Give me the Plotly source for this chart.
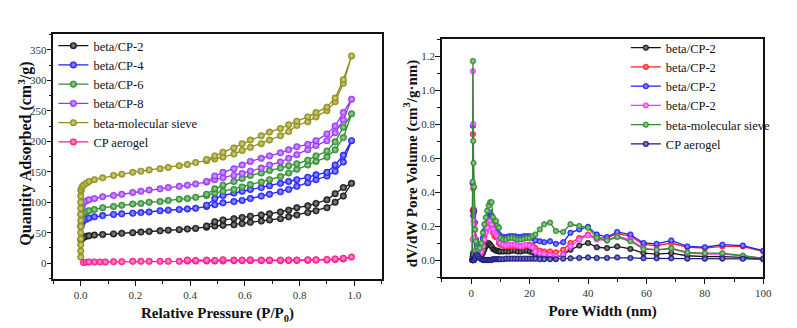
import plotly.graph_objects as go

# ---------------- Left panel: N2 isotherms ----------------
p_ads = [0.001, 0.005, 0.01, 0.02, 0.03, 0.05, 0.08, 0.12, 0.15, 0.19, 0.22, 0.25, 0.29, 0.32,
         0.36, 0.39, 0.42, 0.46, 0.49, 0.52, 0.56, 0.59, 0.62, 0.66, 0.69, 0.73, 0.76, 0.79,
         0.83, 0.86, 0.90, 0.93, 0.96, 0.99]
p_des = [0.96, 0.93, 0.90, 0.86, 0.83, 0.79, 0.76, 0.73, 0.69, 0.66, 0.62, 0.59, 0.56, 0.52, 0.49, 0.46]

cp2_ads = [38, 41, 42, 44, 45, 46, 47, 48, 49, 50, 51, 52, 53, 54, 55, 56, 57, 59, 61, 62, 63, 65,
           67, 69, 71, 73, 76, 79, 83, 86, 91, 100, 110, 131]
cp2_des = [124, 114, 104, 98, 94, 91, 87, 84, 81, 79, 77, 75, 73, 71, 68, 61]

cp4_ads = [60, 66, 70, 72, 74, 76, 78, 80, 81, 82, 83, 84, 86, 87, 88, 89, 90, 93, 96, 99, 101, 103,
           106, 110, 113, 117, 121, 126, 132, 137, 143, 151, 166, 201]
cp4_des = [177, 161, 149, 145, 141, 137, 134, 131, 127, 124, 121, 118, 115, 111, 106, 95]

cp6_ads = [62, 76, 82, 84, 86, 88, 91, 93, 95, 97, 98, 100, 101, 103, 105, 106, 108, 111, 115, 118,
           121, 125, 129, 133, 137, 142, 148, 154, 161, 167, 174, 186, 206, 245]
cp6_des = [223, 199, 184, 176, 169, 163, 160, 156, 152, 148, 144, 139, 134, 128, 122, 113]

cp8_ads = [80, 92, 99, 102, 104, 106, 109, 111, 113, 116, 118, 120, 122, 124, 126, 128, 130, 133,
           137, 140, 144, 147, 151, 156, 161, 166, 172, 178, 186, 193, 201, 214, 235, 269]
cp8_des = [247, 225, 212, 201, 195, 191, 186, 181, 176, 172, 167, 161, 155, 149, 143, 134]

sieve_p_low = [0.0, 0.0, 0.0, 0.0, 0.0, 0.0, 0.0, 0.0, 0.0, 0.0, 0.0, 0.001]
sieve_low = [10, 20, 30, 40, 50, 60, 70, 80, 90, 100, 110, 118]
sieve_ads = [121, 125, 128, 131, 134, 137, 140, 144, 146, 149, 151, 153, 155, 157, 160, 162, 165,
             168, 171, 174, 179, 185, 190, 196, 202, 209, 216, 226, 232, 240, 250, 265, 295, 340]
sieve_des = [301, 271, 256, 247, 240, 233, 227, 221, 215, 209, 202, 196, 189, 182, 176, 170]

aero_p_ads = [0.01, 0.02, 0.03, 0.05, 0.07, 0.09, 0.12, 0.15, 0.19, 0.22, 0.25, 0.29, 0.32, 0.36,
              0.39, 0.42, 0.46, 0.49, 0.52, 0.56, 0.59, 0.62, 0.66, 0.69, 0.73, 0.76, 0.79, 0.83,
              0.86, 0.90, 0.93, 0.96, 0.99]
aero_ads = [1, 1.5, 2, 2, 2, 2, 2.5, 2.5, 3, 3, 3, 3, 3, 3, 3.5, 3.5, 3.5, 3.5, 3.5, 4, 4, 4, 4, 4,
            4, 4.5, 4.5, 4.5, 5, 5, 6, 7, 10]
aero_p_des = [0.96, 0.93, 0.90, 0.86, 0.83, 0.79, 0.76, 0.73, 0.69, 0.66, 0.62, 0.59, 0.56, 0.52,
              0.49, 0.46, 0.42, 0.39]
aero_des = [8, 7, 6, 5.5, 5.5, 5, 5, 5, 5, 5, 5.5, 5, 5, 5.5, 4.5, 5, 4.5, 5]

left_names = ["beta/CP-2", "beta/CP-4", "beta/CP-6", "beta/CP-8", "beta-molecular sieve", "CP aerogel"]
left_colors = ["#151515", "#1f1fff", "#2e8b2e", "#9a35ff", "#8e8e18", "#ff1a8c"]
left_light = ["#9a9a9a", "#a8a8ff", "#a6d8a6", "#d6b0ff", "#d8d890", "#ffa8d2"]

left_x = [p_ads + p_des, p_ads + p_des, p_ads + p_des, p_ads + p_des,
          sieve_p_low + p_ads + p_des, aero_p_ads + aero_p_des]
left_y = [cp2_ads + cp2_des, cp4_ads + cp4_des, cp6_ads + cp6_des, cp8_ads + cp8_des,
          sieve_low + sieve_ads + sieve_des, aero_ads + aero_des]

# ---------------- Right panel: pore size distribution ----------------
pore_width = [0.4, 0.5, 0.6, 0.7, 0.8, 1.0, 1.3, 1.6, 2.0, 2.5, 3.0, 3.5, 4.0, 4.5, 5.0, 5.5, 6.0,
              6.5, 7.0, 7.5, 8.0, 8.5, 9.0, 9.5, 10, 11, 12, 13, 14, 15, 16, 17, 18, 19, 20, 21,
              22, 23.5, 25, 27, 29, 31.5, 34, 37, 40, 43, 46.5, 50, 54.5, 59, 63.5, 68.5, 74, 80,
              86, 93, 100]

psd_black = [0.00, 0.02, 0.04, 0.02, 0.01, 0.00, 0.01, 0.02, 0.03, 0.03, 0.02, 0.02, 0.04, 0.06,
             0.08, 0.09, 0.10, 0.09, 0.08, 0.065, 0.06, 0.055, 0.055, 0.05, 0.05, 0.05, 0.05, 0.05,
             0.055, 0.055, 0.05, 0.05, 0.055, 0.055, 0.05, 0.045, 0.03, 0.02, 0.02, 0.015, 0.015,
             0.03, 0.06, 0.085, 0.10, 0.075, 0.07, 0.08, 0.065, 0.04, 0.035, 0.04, 0.025, 0.02,
             0.02, 0.015, 0.005]
psd_red = [0.00, 0.29, 0.74, 0.42, 0.30, 0.28, 0.18, 0.12, 0.08, 0.05, 0.05, 0.07, 0.10, 0.14, 0.17,
           0.20, 0.22, 0.21, 0.20, 0.16, 0.14, 0.135, 0.13, 0.10, 0.09, 0.085, 0.08, 0.08, 0.08,
           0.08, 0.08, 0.08, 0.08, 0.085, 0.09, 0.085, 0.07, 0.055, 0.05, 0.05, 0.045, 0.06, 0.10,
           0.13, 0.15, 0.13, 0.13, 0.155, 0.14, 0.09, 0.085, 0.10, 0.075, 0.07, 0.08, 0.08, 0.05]
psd_blue = [0.00, 0.45, 0.79, 0.26, 0.29, 0.29, 0.22, 0.12, 0.09, 0.06, 0.06, 0.09, 0.13, 0.17, 0.21,
            0.25, 0.27, 0.28, 0.26, 0.21, 0.19, 0.17, 0.16, 0.15, 0.14, 0.135, 0.135, 0.14, 0.14,
            0.14, 0.135, 0.135, 0.14, 0.14, 0.14, 0.13, 0.115, 0.11, 0.105, 0.11, 0.095, 0.105,
            0.16, 0.18, 0.195, 0.15, 0.135, 0.165, 0.15, 0.10, 0.095, 0.115, 0.08, 0.075, 0.09,
            0.085, 0.055]
psd_magenta = [0.00, 0.12, 1.11, 0.80, 0.23, 0.21, 0.13, 0.06, 0.03, 0.02, 0.03, 0.05, 0.08, 0.12,
               0.16, 0.19, 0.22, 0.23, 0.21, 0.18, 0.16, 0.15, 0.14, 0.12, 0.10, 0.09, 0.085, 0.09,
               0.09, 0.09, 0.085, 0.08, 0.085, 0.09, 0.085, 0.075, 0.05, 0.04, 0.035, 0.03, 0.02,
               0.03, 0.08, 0.12, 0.145, 0.12, 0.115, 0.14, 0.12, 0.07, 0.06, 0.065, 0.04, 0.035,
               0.035, 0.025, 0.01]
psd_green = [0.00, 0.46, 1.17, 0.70, 0.57, 0.43, 0.18, 0.11, 0.07, 0.06, 0.07, 0.10, 0.16, 0.21,
             0.25, 0.29, 0.32, 0.34, 0.34, 0.25, 0.23, 0.23, 0.20, 0.19, 0.13, 0.12, 0.12, 0.13,
             0.13, 0.125, 0.12, 0.12, 0.125, 0.13, 0.13, 0.14, 0.15, 0.18, 0.21, 0.22, 0.17, 0.165,
             0.21, 0.20, 0.19, 0.13, 0.115, 0.135, 0.11, 0.065, 0.06, 0.07, 0.045, 0.04, 0.04,
             0.025, 0.01]
psd_navy = [0.00, 0.00, 0.00, 0.00, 0.00, 0.00, 0.01, 0.02, 0.03, 0.02, 0.01, 0.005, 0.0, 0.0, 0.0,
            0.0, 0.0, 0.0, 0.0, 0.005, 0.005, 0.005, 0.005, 0.005, 0.005, 0.005, 0.008, 0.008,
            0.008, 0.008, 0.008, 0.008, 0.008, 0.008, 0.008, 0.008, 0.008, 0.005, 0.005, 0.005,
            0.005, 0.008, 0.01, 0.012, 0.015, 0.012, 0.012, 0.015, 0.012, 0.01, 0.01, 0.01, 0.008,
            0.008, 0.008, 0.007, 0.005]

right_names = ["beta/CP-2", "beta/CP-2", "beta/CP-2", "beta/CP-2", "beta-molecular sieve", "CP aerogel"]
right_colors = ["#151515", "#ff1f1f", "#1f1fff", "#ff33ff", "#2e8b2e", "#1a1a85"]
right_light = ["#9a9a9a", "#ffaaaa", "#a8a8ff", "#ffb0ff", "#a6d8a6", "#9a9ad8"]
right_y = [psd_black, psd_red, psd_blue, psd_magenta, psd_green, psd_navy]

FONT = "Liberation Serif"
W, H = 797, 328

fig = go.Figure()

for name, c, lc, xs, ys in zip(left_names, left_colors, left_light, left_x, left_y):
    fig.add_trace(go.Scatter(
        x=xs, y=ys, name=name, mode="lines+markers", xaxis="x", yaxis="y", legend="legend",
        line=dict(color=c, width=1.3),
        marker=dict(symbol="circle", size=6.5, color=c,
                    gradient=dict(type="radial", color=lc),
                    line=dict(color=c, width=0.6)),
    ))

for name, c, lc, ys in zip(right_names, right_colors, right_light, right_y):
    fig.add_trace(go.Scatter(
        x=pore_width, y=ys, name=name, mode="lines+markers", xaxis="x2", yaxis="y2",
        legend="legend2",
        line=dict(color=c, width=1.3),
        marker=dict(symbol="circle", size=5.5, color=c,
                    gradient=dict(type="radial", color=lc),
                    line=dict(color=c, width=0.6)),
    ))

tickfont = dict(family=FONT, size=11, color="#333333")

def axis_common():
    return dict(showline=True, linecolor="#111111", linewidth=1.5, mirror=True,
                ticks="outside", ticklen=5, tickwidth=1, tickcolor="#111111",
                showgrid=False, zeroline=False, tickfont=tickfont)

def tfont(size):
    return dict(family=FONT, size=size, color="#111111")

fig.update_layout(
    width=W, height=H,
    margin=dict(l=0, r=0, t=0, b=0),
    paper_bgcolor="white", plot_bgcolor="white",
    font=dict(family=FONT),
    showlegend=True,
    xaxis=dict(domain=[54 / W, 386 / W], range=[-0.1, 1.1], tick0=0, dtick=0.2,
               tickformat=".1f", anchor="y",
               minor=dict(ticks="outside", ticklen=3, dtick=0.1, tickcolor="#111111"),
               title=dict(text="<b>Relative Pressure (P/P<sub>0</sub>)</b>", font=tfont(15),
                          standoff=8),
               **axis_common()),
    yaxis=dict(domain=[1 - 279 / H, 1 - 34 / H], range=[-26, 376], tick0=0, dtick=50,
               anchor="x", ticklabelstandoff=-2,
               minor=dict(ticks="outside", ticklen=3, dtick=25, tickcolor="#111111"),
               **axis_common()),
    xaxis2=dict(domain=[447 / W, 772 / W], range=[-10, 100], tick0=0, dtick=20, anchor="y2",
                minor=dict(ticks="outside", ticklen=3, dtick=10, tickcolor="#111111"),
                title=dict(text="<b>Pore Width (nm)</b>", font=tfont(15), standoff=8),
                **axis_common()),
    yaxis2=dict(domain=[1 - 277 / H, 1 - 39 / H], range=[-0.1, 1.3], tick0=0, dtick=0.2,
                tickformat=".1f", anchor="x2", ticklabelstandoff=-2,
                minor=dict(ticks="outside", ticklen=3, dtick=0.1, tickcolor="#111111"),
                **axis_common()),
    legend=dict(x=54 / W, y=1 - 31 / H, xanchor="left", yanchor="top",
                bgcolor="rgba(0,0,0,0)", borderwidth=0, itemwidth=30,
                tracegroupgap=0,
                font=dict(family=FONT, size=12.5, color="#111111")),
    legend2=dict(x=633 / W, y=1 - 33 / H, xanchor="left", yanchor="top",
                 bgcolor="rgba(0,0,0,0)", borderwidth=0, itemwidth=30,
                 tracegroupgap=0,
                 font=dict(family=FONT, size=12.5, color="#111111")),
    annotations=[
        dict(text="<b>Quantity Adsorbed (cm<sup>3</sup>/g)</b>", textangle=-90,
             x=25 / W, y=1 - 154 / H, xref="paper", yref="paper",
             xanchor="center", yanchor="middle", showarrow=False, font=tfont(16)),
        dict(text="<b>dV/dW Pore Volume (cm<sup>3</sup>/g·nm)</b>", textangle=-90,
             x=415 / W, y=1 - 163 / H, xref="paper", yref="paper",
             xanchor="center", yanchor="middle", showarrow=False, font=tfont(15)),
    ],
)

fig.write_html("out.html")
